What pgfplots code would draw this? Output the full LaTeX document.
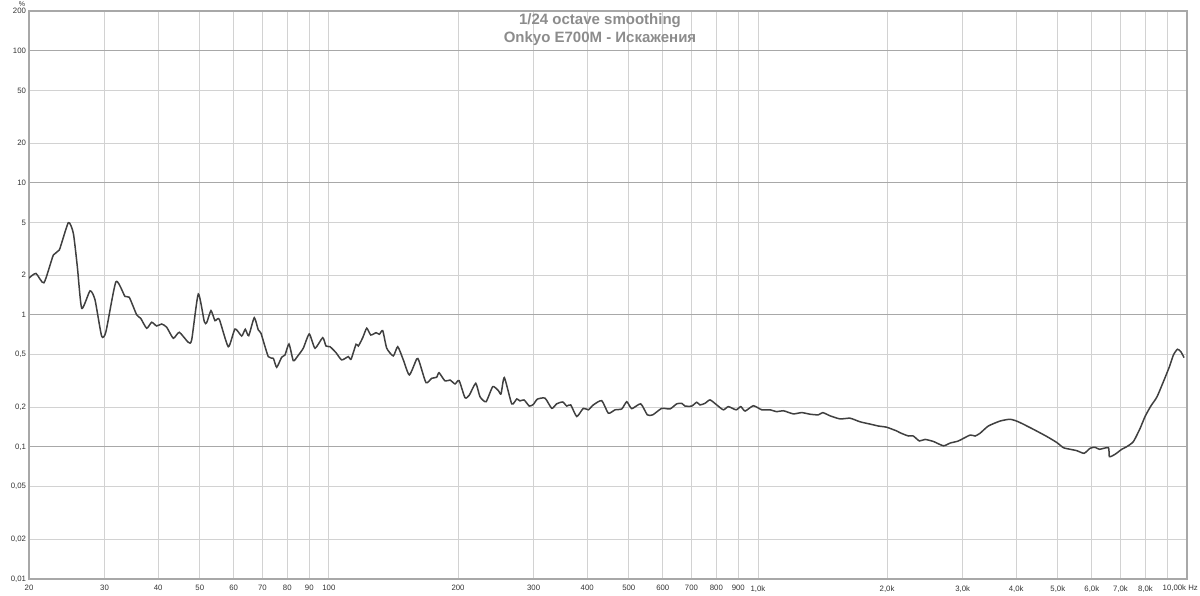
\documentclass[border=0pt]{standalone}
\usepackage{fontspec}
\setmainfont{Liberation Sans}
\usepackage{pgfplots}
\pgfplotsset{compat=1.18}
\definecolor{gridc}{HTML}{D2D2D2}
\definecolor{gridd}{HTML}{A8A8A8}
\definecolor{curvec}{HTML}{404040}
\definecolor{titlec}{HTML}{8C8C8C}
\definecolor{framec}{HTML}{A8A8A8}
\begin{document}
\begin{tikzpicture}[x=1pt,y=1pt]
\useasboundingbox (0,0) rectangle (1200,595);
\begin{axis}[
  at={(29pt,16pt)}, anchor=south west,
  scale only axis, width=1158pt, height=568pt,
  xmode=log, ymode=log,
  xmin=20, xmax=10000, ymin=0.01, ymax=200,
  xtick={20,30,40,50,60,70,80,90,100,200,300,400,500,600,700,800,900,1000,2000,3000,4000,5000,6000,7000,8000,9000,10000},
  xticklabels={20,30,40,50,60,70,80,90,100,200,300,400,500,600,700,800,900,{1,0k},{2,0k},{3,0k},{4,0k},{5,0k},{6,0k},{7,0k},{8,0k},{},{}},
  ytick={0.01,0.02,0.05,0.1,0.2,0.5,1,2,5,10,20,50,100,200},
  yticklabels={{0,01},{0,02},{0,05},{0,1},{0,2},{0,5},1,2,5,10,20,50,100,200},
  extra y ticks={0.1,1,10,100},
  extra y tick labels={},
  extra y tick style={grid=major, major grid style={gridd, line width=0.9pt}},
  grid=major,
  major grid style={gridc, line width=0.9pt},
  major tick length=0pt,
  minor tick num=0,
  axis line style={framec, line width=2pt},
  tick label style={font=\fontsize{7.8}{8}\selectfont, text=black!80},
  xticklabel style={yshift=-3pt},
  yticklabel style={xshift=0.5pt},
]
\addplot[curvec, line width=1.5pt, smooth, tension=0.35] coordinates {
(20,1.90) (20.76,2.06) (21.67,1.75) (22.79,2.84) (23.53,3.10) (24.70,4.99)
(25.37,4.15) (25.92,2.32) (26.54,1.12) (27.75,1.52) (28.50,1.30) (29.53,0.692)
(30.22,0.746) (31.89,1.78) (33.47,1.38) (34.25,1.36) (35.65,1.00) (36.42,0.942)
(37.61,0.792) (38.64,0.879) (39.68,0.824) (40.76,0.853) (41.87,0.806) (43.39,0.665)
(44.80,0.738) (47.01,0.620) (47.88,0.646) (49.61,1.44) (51.24,0.888) (51.90,0.873)
(53.11,1.076) (54.26,0.904) (55.52,0.926) (58.28,0.574) (60.41,0.782) (62.62,0.692)
(63.84,0.778) (65.03,0.696) (66.99,0.952) (68.45,0.769) (69.45,0.726) (72.23,0.483)
(74.20,0.469) (75.56,0.401) (77.62,0.478) (79.01,0.497) (80.72,0.602) (82.60,0.450)
(84.39,0.483) (87.15,0.559) (90.00,0.717) (92.81,0.559) (96.73,0.672) (98.45,0.581)
(100.6,0.574) (103.9,0.517) (107.1,0.456) (111.0,0.483) (112.6,0.461) (115.7,0.599)
(117.1,0.581) (119.9,0.672) (122.5,0.792) (125.2,0.704) (128.8,0.733) (131.1,0.713)
(133.5,0.759) (136.4,0.559) (141.3,0.489) (144.7,0.574) (149.1,0.456) (154.0,0.351)
(160.2,0.464) (162.2,0.448) (168.4,0.307) (173.6,0.331) (178.3,0.337) (180.6,0.365)
(186.5,0.316) (191.6,0.321) (196.8,0.300) (201.1,0.318) (207.6,0.236) (212.5,0.247)
(219.9,0.303) (225.0,0.240) (232.4,0.220) (240.9,0.286) (248.3,0.267) (251.9,0.252)
(256.4,0.335) (266.8,0.212) (274.1,0.231) (278.9,0.223) (285.0,0.227) (293.2,0.204)
(299.6,0.210) (306.1,0.230) (319.0,0.234) (330.7,0.196) (339.6,0.212) (350.8,0.219)
(358.4,0.204) (366.2,0.208) (378.2,0.170) (391.7,0.196) (402.4,0.191) (413.3,0.208)
(432.4,0.224) (448.0,0.180) (464.5,0.191) (481.5,0.194) (494.6,0.220) (507.9,0.195)
(533.1,0.212) (552.3,0.175) (568.6,0.175) (596.8,0.196) (623.9,0.194) (646.7,0.212)
(664.3,0.214) (676.2,0.204) (701.0,0.204) (720.0,0.218) (732.8,0.208) (752.8,0.214)
(773.3,0.227) (801.7,0.208) (830.6,0.191) (853.3,0.202) (889.5,0.191) (912.0,0.202)
(933.2,0.187) (975.7,0.205) (1021,0.191) (1067,0.191) (1106,0.185) (1146,0.188)
(1209,0.178) (1265,0.182) (1322,0.177) (1383,0.175) (1416,0.182) (1473,0.172)
(1554,0.163) (1640,0.165) (1730,0.155) (1825,0.149) (1909,0.144) (1996,0.141)
(2107,0.132) (2145,0.128) (2242,0.121) (2302,0.121) (2378,0.111) (2452,0.114)
(2564,0.110) (2706,0.102) (2805,0.107) (2932,0.111) (3122,0.123) (3207,0.121)
(3294,0.127) (3443,0.144) (3667,0.157) (3869,0.162) (4046,0.155) (4385,0.136)
(4712,0.120) (4973,0.108) (5152,0.0987) (5341,0.0960) (5536,0.0937) (5757,0.0895)
(5945,0.0977) (6106,0.0994) (6249,0.0960) (6560,0.0987) (6595,0.0844) (6799,0.0880)
(7047,0.0960) (7239,0.1005) (7500,0.1096) (7774,0.138) (7986,0.170) (8235,0.204)
(8504,0.238) (8811,0.312) (9100,0.405) (9297,0.497) (9498,0.549) (9673,0.527)
(9845,0.474)
};
\end{axis}
\node[anchor=north east, inner sep=0pt, font=\fontsize{7.8}{8}\selectfont, text=black!80] at (1198,10.5) {10,00k Hz};
\node[anchor=center, inner sep=0pt, font=\fontsize{7}{8}\selectfont, text=black!80] at (22,591) {\%};
\node[anchor=base, inner sep=0pt, font=\bfseries\fontsize{15}{18}\selectfont, text=titlec] at (600,570) {1/24 octave smoothing};
\node[anchor=base, inner sep=0pt, font=\bfseries\fontsize{15}{18}\selectfont, text=titlec] at (600,552) {Onkyo E700M - Искажения};
\end{tikzpicture}
\end{document}
